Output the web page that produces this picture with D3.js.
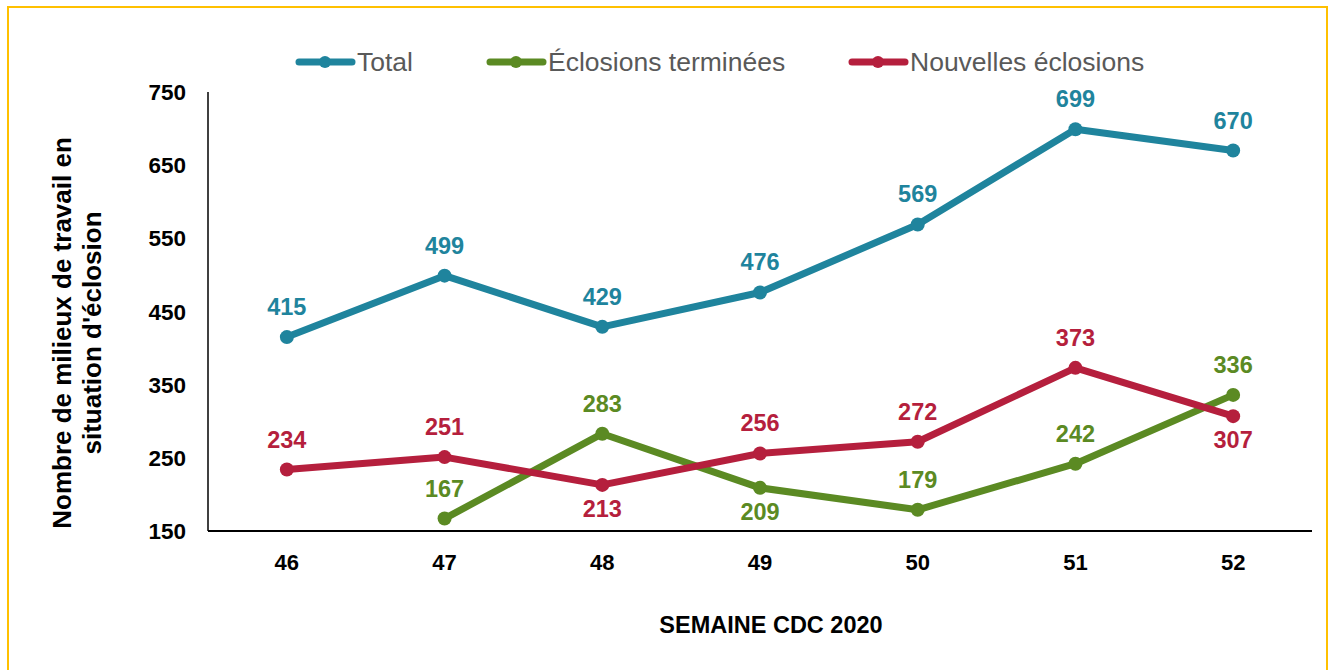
<!DOCTYPE html>
<html>
<head>
<meta charset="utf-8">
<script src="https://cdn.jsdelivr.net/npm/d3@7"></script>
<style>
  body { margin: 0; background: #fff; }
  svg text { font-family: "Liberation Sans", Arial, sans-serif; }
</style>
</head>
<body>
<svg id="chart" width="1330" height="670"></svg>
<script>
// Weeks on the x axis
const weeks = ["46", "47", "48", "49", "50", "51", "52"];
const yTicks = [150, 250, 350, 450, 550, 650, 750];

// Series values (null = no data)
const totalValues = [415, 499, 429, 476, 569, 699, 670];
const doneValues = [null, 167, 283, 209, 179, 242, 336];
const newValues = [234, 251, 213, 256, 272, 373, 307];

// label position per point: "a" above, "b" below
const doneLabelPos = [null, "a", "a", "b", "a", "a", "a"];
const newLabelPos = ["a", "a", "b", "a", "a", "a", "b"];

const series = [
  { name: "Total", color: "#1f849d", values: totalValues, pos: totalValues.map(() => "a") },
  { name: "Éclosions terminées", color: "#5b8a23", values: doneValues, pos: doneLabelPos },
  { name: "Nouvelles éclosions", color: "#b51f3d", values: newValues, pos: newLabelPos },
];

const svg = d3.select("#chart");

// yellow frame
svg.append("rect")
  .attr("x", 8).attr("y", 7)
  .attr("width", 1319).attr("height", 700)
  .attr("fill", "none")
  .attr("stroke", "#ffc000")
  .attr("stroke-width", 2);

const x = d3.scalePoint().domain(weeks).range([208, 1312]).padding(0.5);
const y = d3.scaleLinear().domain([150, 750]).range([531, 92]);

// axes
svg.append("line")
  .attr("x1", 208).attr("x2", 208)
  .attr("y1", y(750)).attr("y2", y(150))
  .attr("stroke", "#000").attr("stroke-width", 1.5);
svg.append("line")
  .attr("x1", 208).attr("x2", 1312)
  .attr("y1", y(150)).attr("y2", y(150))
  .attr("stroke", "#000").attr("stroke-width", 2);

svg.append("g")
  .selectAll("text")
  .data(yTicks)
  .join("text")
  .attr("x", 186)
  .attr("y", (d) => y(d) + 8)
  .attr("text-anchor", "end")
  .attr("font-size", 22.5)
  .attr("font-weight", "bold")
  .attr("fill", "#000")
  .text((d) => d);

svg.append("g")
  .selectAll("text")
  .data(weeks)
  .join("text")
  .attr("x", (d) => x(d))
  .attr("y", 570)
  .attr("text-anchor", "middle")
  .attr("font-size", 22)
  .attr("font-weight", "bold")
  .attr("fill", "#000")
  .text((d) => d);

svg.append("text")
  .attr("x", 771)
  .attr("y", 633)
  .attr("text-anchor", "middle")
  .attr("font-size", 23.5)
  .attr("font-weight", "bold")
  .text("SEMAINE CDC 2020");

// y axis title
const yTitle = svg.append("text")
  .attr("transform", "translate(0,333) rotate(-90)")
  .attr("text-anchor", "middle")
  .attr("font-size", 26)
  .attr("font-weight", "bold");
yTitle.append("tspan").attr("x", 0).attr("y", 71).text("Nombre de milieux de travail en");
yTitle.append("tspan").attr("x", 0).attr("y", 101).text("situation d'éclosion");

// lines, points, labels
const line = d3.line()
  .defined((d) => d.v != null)
  .x((d) => x(d.w))
  .y((d) => y(d.v));

series.forEach((s) => {
  const pts = weeks.map((w, i) => ({ w, v: s.values[i], p: s.pos[i] }));
  const g = svg.append("g");
  g.append("path")
    .datum(pts)
    .attr("d", line)
    .attr("fill", "none")
    .attr("stroke", s.color)
    .attr("stroke-width", 7)
    .attr("stroke-linejoin", "round");
  const valid = pts.filter((d) => d.v != null);
  g.selectAll("circle")
    .data(valid)
    .join("circle")
    .attr("cx", (d) => x(d.w))
    .attr("cy", (d) => y(d.v))
    .attr("r", 7)
    .attr("fill", s.color);
  g.selectAll("text")
    .data(valid)
    .join("text")
    .attr("x", (d) => x(d.w))
    .attr("y", (d) => y(d.v) + (d.p === "a" ? -22 : 32))
    .attr("text-anchor", "middle")
    .attr("font-size", 23.5)
    .attr("font-weight", "bold")
    .attr("fill", s.color)
    .text((d) => d.v);
});

// legend
const legendX = [296, 487, 849];
const legend = svg.append("g")
  .selectAll("g")
  .data(series)
  .join("g")
  .attr("transform", (d, i) => `translate(${legendX[i]},62)`);
legend.append("line")
  .attr("x1", 3).attr("x2", 56)
  .attr("stroke", (d) => d.color)
  .attr("stroke-width", 7)
  .attr("stroke-linecap", "round");
legend.append("circle")
  .attr("cx", 29).attr("r", 6)
  .attr("fill", (d) => d.color);
legend.append("text")
  .attr("x", 61)
  .attr("y", 9)
  .attr("font-size", 26.5)
  .attr("fill", "#595959")
  .text((d) => d.name);
</script>
</body>
</html>
